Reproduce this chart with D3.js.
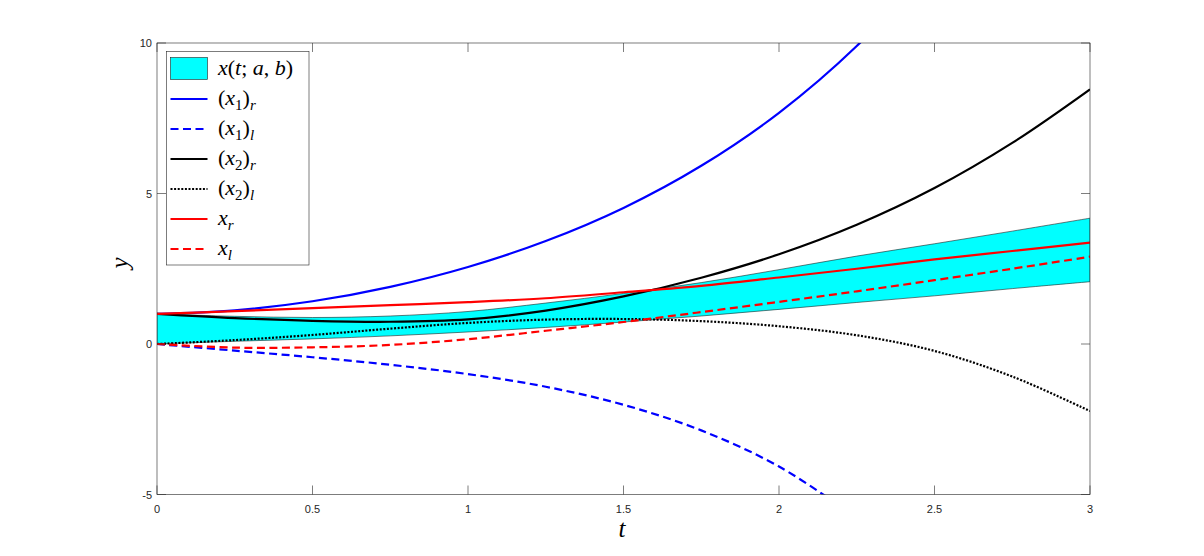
<!DOCTYPE html>
<html><head><meta charset="utf-8">
<script src="https://cdn.jsdelivr.net/npm/d3@7"></script>
<style>body{margin:0;background:#fff}</style></head>
<body><svg id="c" width="1204" height="556"></svg>
<script>
// ---- data ----
const tValues   = [0,0.25,0.5,0.75,1,1.25,1.5,1.75,2,2.25,2.5,2.75,3];
const bandLower = [0,0.09,0.17,0.27,0.40,0.55,0.73,0.93,1.15,1.38,1.60,1.84,2.07];
const bandUpper = [1.0,0.92,0.88,0.93,1.08,1.36,1.68,2.04,2.47,2.92,3.33,3.75,4.18];
const x1r = [1.0,1.12,1.42,1.90,2.56,3.42,4.52,5.92,7.68,9.90,12.68];
const x1l = [0,-0.22,-0.44,-0.69,-1.00,-1.42,-2.02,-2.87,-4.07,-5.77];
const x2r = [1.0,0.86,0.77,0.74,0.82,1.11,1.58,2.20,2.98,3.96,5.18,6.68,8.46];
const x2l = [0,0.13,0.30,0.51,0.70,0.81,0.83,0.76,0.59,0.29,-0.23,-1.08,-2.23];
const xr  = [1.0,1.09,1.19,1.29,1.39,1.52,1.72,1.93,2.21,2.50,2.81,3.09,3.37];
const xl  = [0,-0.12,-0.11,-0.03,0.16,0.44,0.73,1.06,1.40,1.75,2.12,2.50,2.90];
const xTicks = [0,0.5,1,1.5,2,2.5,3];
const yTicks = [-5,0,5,10];

const L = 157, R = 1090, T = 43, B = 494.5;
const svg = d3.select("#c");
const x = d3.scaleLinear().domain([0,3]).range([L,R]);
const y = d3.scaleLinear().domain([-5,10]).range([B,T]);

svg.append("defs").append("clipPath").attr("id","clip")
  .append("rect").attr("x",L).attr("y",T).attr("width",R-L).attr("height",B-T);

const g = svg.append("g").attr("clip-path","url(#clip)");

// band
const bandData = tValues.map((t,i)=>({t, lo:bandLower[i], hi:bandUpper[i]}));
const area = d3.area().x(d=>x(d.t)).y0(d=>y(d.lo)).y1(d=>y(d.hi)).curve(d3.curveCatmullRom);
g.append("path").datum(bandData).attr("d",area)
  .attr("fill","#00ffff").attr("stroke","#222").attr("stroke-width",0.6);

const series = [
  {vals:x1r, color:"#0000ff", dash:null},
  {vals:x1l, color:"#0000ff", dash:"8,4.5"},
  {vals:x2r, color:"#000000", dash:null},
  {vals:x2l, color:"#000000", dash:"2,1.6"},
  {vals:xr,  color:"#ff0000", dash:null},
  {vals:xl,  color:"#ff0000", dash:"8,4.5"}
];
const line = d3.line().x(d=>x(d[0])).y(d=>y(d[1])).curve(d3.curveCatmullRom);
series.forEach(s=>{
  const pts = s.vals.map((v,i)=>[tValues[i],v]);
  g.append("path").datum(pts).attr("d",line).attr("fill","none")
    .attr("stroke",s.color).attr("stroke-width",2.2)
    .attr("stroke-dasharray",s.dash);
});

// axes box
const axisColor = "#262626";
const ax = svg.append("g");
ax.append("rect").attr("x",L).attr("y",T).attr("width",R-L).attr("height",B-T)
  .attr("fill","none").attr("stroke",axisColor).attr("stroke-width",0.6);
const tickLen = 9;
xTicks.forEach(v=>{
  ax.append("line").attr("x1",x(v)).attr("x2",x(v)).attr("y1",B).attr("y2",B-tickLen)
    .attr("stroke",axisColor).attr("stroke-width",0.6);
  ax.append("line").attr("x1",x(v)).attr("x2",x(v)).attr("y1",T).attr("y2",T+tickLen)
    .attr("stroke",axisColor).attr("stroke-width",0.6);
  ax.append("text").attr("x",x(v)).attr("y",B+18).attr("text-anchor","middle")
    .attr("font-family","Liberation Sans, Arial, sans-serif").attr("font-size",11)
    .attr("fill",axisColor).text(d3.format("~g")(v));
});
yTicks.forEach(v=>{
  ax.append("line").attr("x1",L).attr("x2",L+tickLen).attr("y1",y(v)).attr("y2",y(v))
    .attr("stroke",axisColor).attr("stroke-width",0.6);
  ax.append("line").attr("x1",R).attr("x2",R-tickLen).attr("y1",y(v)).attr("y2",y(v))
    .attr("stroke",axisColor).attr("stroke-width",0.6);
  ax.append("text").attr("x",L-5).attr("y",y(v)+4).attr("text-anchor","end")
    .attr("font-family","Liberation Sans, Arial, sans-serif").attr("font-size",11)
    .attr("fill",axisColor).text(v);
});

// axis labels
svg.append("text").attr("x",622).attr("y",537).attr("text-anchor","middle")
  .attr("font-family","Liberation Serif, serif").attr("font-style","italic")
  .attr("font-size",25).attr("fill","#000").text("t");
svg.append("text").attr("transform","translate(128,263) rotate(-90)").attr("text-anchor","middle")
  .attr("font-family","Liberation Serif, serif").attr("font-style","italic")
  .attr("font-size",25).attr("fill","#000").text("y");

// legend
const lg = svg.append("g");
lg.append("rect").attr("x",166.5).attr("y",51.5).attr("width",142.5).attr("height",213.5)
  .attr("fill","#fff").attr("stroke",axisColor).attr("stroke-width",0.6);
const rowY = i => 69 + 30*i;
lg.append("rect").attr("x",170.5).attr("y",57.5).attr("width",37).attr("height",22)
  .attr("fill","#00ffff").attr("stroke","#222").attr("stroke-width",0.6);
series.forEach((s,i)=>{
  lg.append("line").attr("x1",170.5).attr("x2",207.5).attr("y1",rowY(i+1)).attr("y2",rowY(i+1))
    .attr("stroke",s.color).attr("stroke-width",2.2).attr("stroke-dasharray",s.dash);
});
// label parts: [text, italic, sub]
const legendLabels = [
  [["x",1,0],["(",0,0],["t",1,0],["; ",0,0],["a",1,0],[", ",0,0],["b",1,0],[")",0,0]],
  [["(",0,0],["x",1,0],["1",0,1],[")",0,0],["r",1,1]],
  [["(",0,0],["x",1,0],["1",0,1],[")",0,0],["l",1,1]],
  [["(",0,0],["x",1,0],["2",0,1],[")",0,0],["r",1,1]],
  [["(",0,0],["x",1,0],["2",0,1],[")",0,0],["l",1,1]],
  [["x",1,0],["r",1,1]],
  [["x",1,0],["l",1,1]]
];
legendLabels.forEach((parts,i)=>{
  const tx = lg.append("text").attr("x",218).attr("y",rowY(i)+6)
    .attr("font-family","Liberation Serif, serif").attr("font-size",22).attr("fill","#000");
  let prevSub = false;
  parts.forEach(p=>{
    const ts = tx.append("tspan").text(p[0])
      .attr("font-style",p[1]?"italic":"normal");
    if (p[2]) {
      ts.attr("font-size",15).attr("dy", prevSub?0:5);
      prevSub = true;
    } else {
      if (prevSub) ts.attr("dy",-5);
      prevSub = false;
    }
  });
});
</script></body></html>
